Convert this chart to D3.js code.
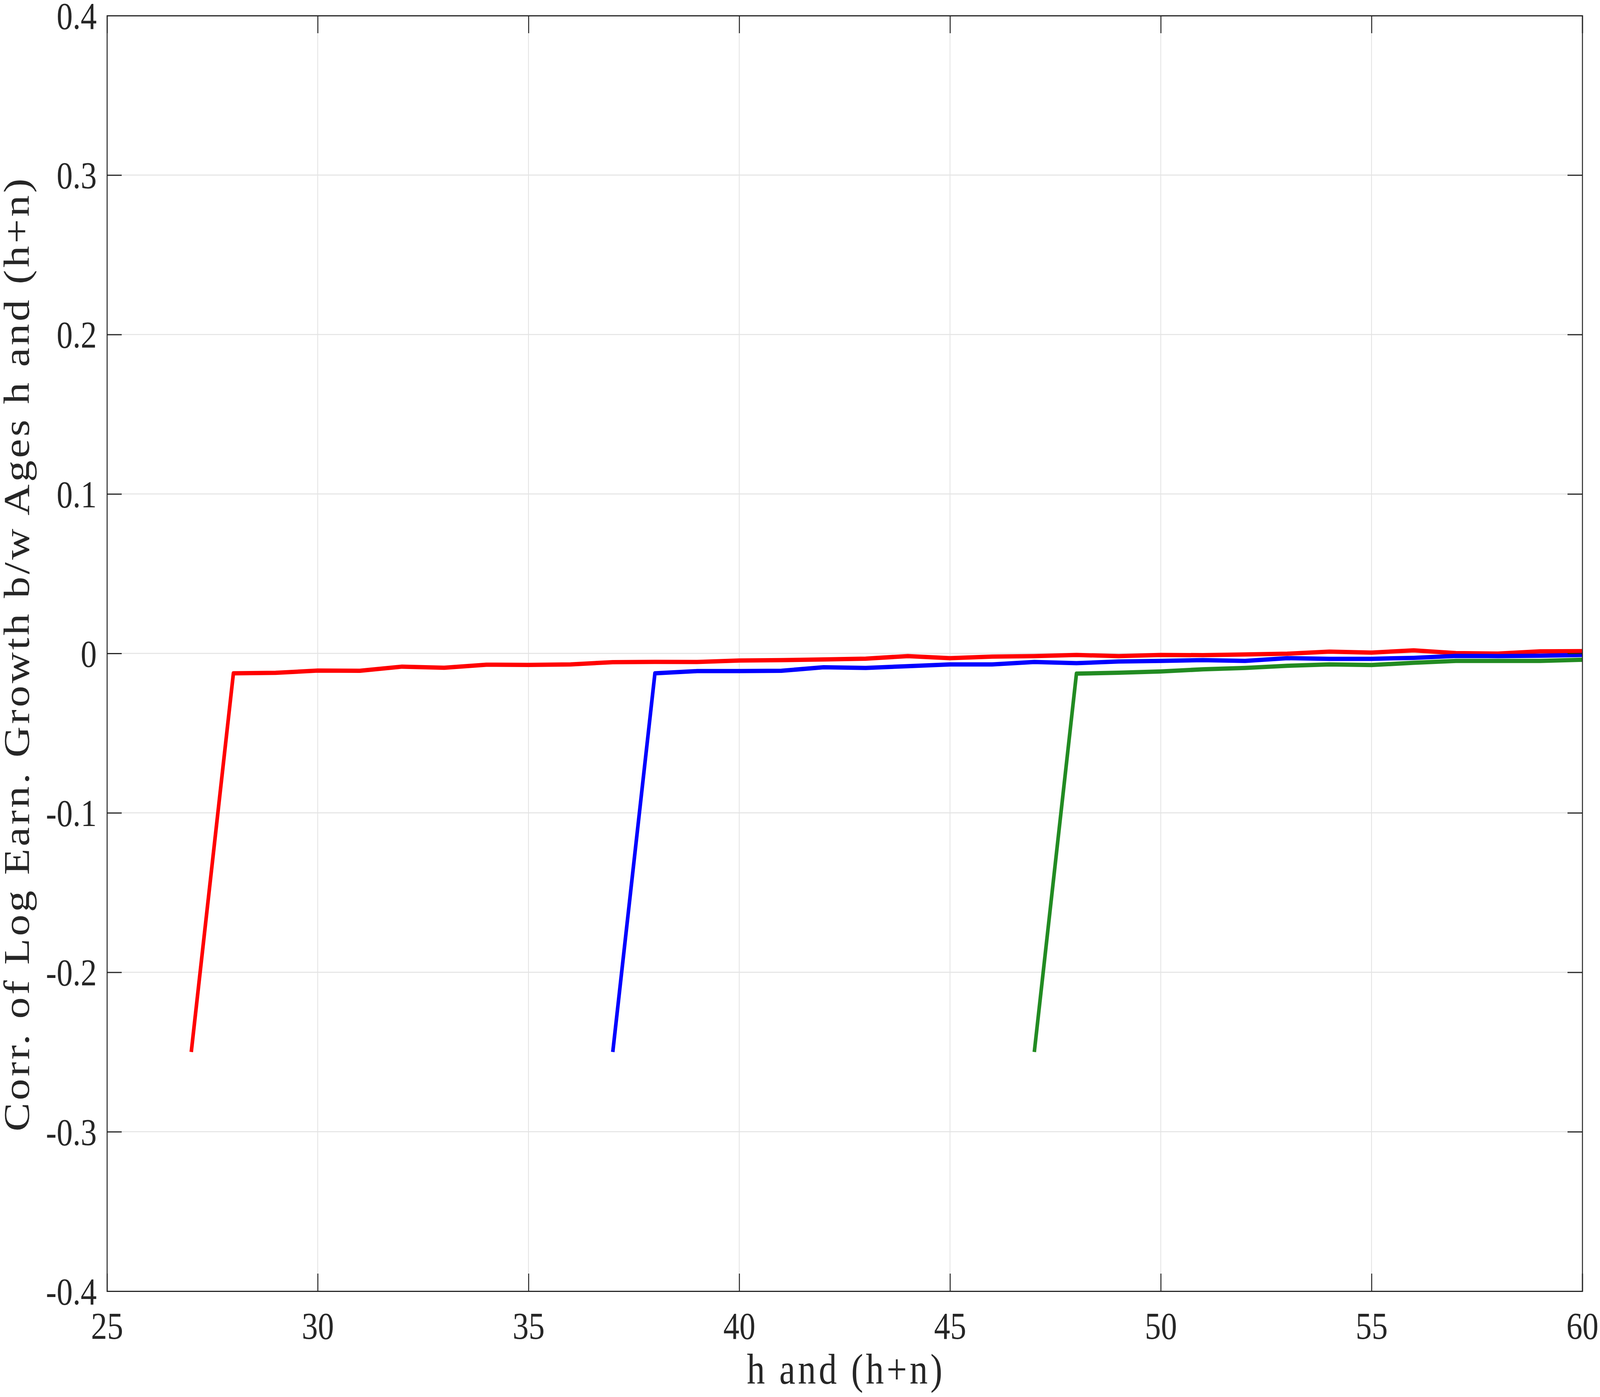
<!DOCTYPE html>
<html>
<head>
<meta charset="utf-8">
<script src="https://cdn.jsdelivr.net/npm/d3@7"></script>
<style>
  html, body { margin: 0; padding: 0; width: 100%; height: 100%; overflow: hidden; background: #fff; }
  svg { display: block; }
  text { font-family: "Liberation Serif", "Times New Roman", serif; fill: #262626; }
</style>
</head>
<body>
<script>
// series values
var agesRed = d3.range(27, 61);
var corrRed = [-0.25, -0.0125, -0.0122, -0.0108, -0.0109, -0.0083, -0.0090, -0.0071, -0.0072, -0.0069,
	-0.0055, -0.0053, -0.0054, -0.0045, -0.0042, -0.0038, -0.0033, -0.0017, -0.0030, -0.0020,
	-0.0017, -0.0010, -0.0017, -0.0010, -0.0011, -0.0007, -0.0002, 0.0011, 0.0005, 0.0019,
	0.0002, -0.0001, 0.0013, 0.0014];
var agesBlue = d3.range(37, 61);
var corrBlue = [-0.25, -0.0125, -0.0111, -0.0111, -0.0109, -0.0087, -0.0091, -0.0080, -0.0069, -0.0069,
	-0.0054, -0.0061, -0.0051, -0.0047, -0.0042, -0.0047, -0.0030, -0.0034, -0.0034, -0.0028,
	-0.0016, -0.0017, -0.0015, -0.0010];
var agesGreen = d3.range(47, 61);
var corrGreen = [-0.25, -0.0127, -0.0121, -0.0113, -0.0100, -0.0091, -0.0078, -0.0069, -0.0073, -0.0059,
	-0.0047, -0.0047, -0.0047, -0.0040];

var xTicks = [25, 30, 35, 40, 45, 50, 55, 60];
var yTicks = [-0.4, -0.3, -0.2, -0.1, 0, 0.1, 0.2, 0.3, 0.4];
var yTickLabels = ["-0.4", "-0.3", "-0.2", "-0.1", "0", "0.1", "0.2", "0.3", "0.4"];
var seriesColors = ["#ff0000", "#0000ff", "#228b22"];

var W = 4877, H = 3577;
var margin = {top: 40, right: 54, bottom: 271, left: 326};
var width = W - margin.left - margin.right;
var height = H - margin.top - margin.bottom;

// viewBox so the drawing fills the window whatever its css size is
var svg = d3.select("body").append("svg")
	.attr("viewBox", "0 0 " + W + " " + H)
	.attr("preserveAspectRatio", "none")
	.style("width", "100vw")
	.style("height", "100vh");
svg.append("rect").attr("width", W).attr("height", H).attr("fill", "#fff");

var g = svg.append("g")
	.attr("transform", "translate(" + margin.left + "," + margin.top + ")");

var x = d3.scaleLinear().domain([25, 60]).range([0, width]);
var y = d3.scaleLinear().domain([-0.4, 0.4]).range([height, 0]);

// grid
g.append("g").selectAll("line").data(xTicks.slice(1, -1)).enter().append("line")
	.attr("x1", function(d) { return x(d); }).attr("x2", function(d) { return x(d); })
	.attr("y1", 0).attr("y2", height)
	.attr("stroke", "#e3e3e3").attr("stroke-width", 2.5);
g.append("g").selectAll("line").data(yTicks.slice(1, -1)).enter().append("line")
	.attr("y1", function(d) { return y(d); }).attr("y2", function(d) { return y(d); })
	.attr("x1", 0).attr("x2", width)
	.attr("stroke", "#e3e3e3").attr("stroke-width", 2.5);

// lines
var line = d3.line()
	.x(function(d) { return x(d[0]); })
	.y(function(d) { return y(d[1]); });
var series = [
	d3.zip(agesRed, corrRed),
	d3.zip(agesBlue, corrBlue),
	d3.zip(agesGreen, corrGreen)
];
g.selectAll(".series").data(series).enter().append("path")
	.attr("class", "series")
	.attr("d", line)
	.attr("fill", "none")
	.attr("stroke", function(d, i) { return seriesColors[i]; })
	.attr("stroke-width", 11)
	.attr("stroke-linejoin", "round");

// axes (matlab look: ticks inward, box on)
var tick = 45;
var fs = 98;
var xAxis = d3.axisBottom(x).tickValues(xTicks).tickSize(-tick).tickPadding(52).tickFormat(d3.format("d"));
var xAxisTop = d3.axisTop(x).tickValues(xTicks).tickSize(-tick).tickFormat("");
var yAxis = d3.axisLeft(y).tickValues(yTicks).tickSize(-tick).tickPadding(31)
	.tickFormat(function(d, i) { return yTickLabels[i]; });
var yAxisRight = d3.axisRight(y).tickValues(yTicks).tickSize(-tick).tickFormat("");

function style(sel) {
	sel.selectAll(".domain").attr("stroke", "#262626").attr("stroke-width", 3);
	sel.selectAll(".tick line").attr("stroke", "#262626").attr("stroke-width", 3);
	sel.selectAll(".tick text").style("font-size", fs + "px").attr("fill", "#262626")
		.style("font-family", "Liberation Serif, Times New Roman, serif");
}
g.append("g").attr("transform", "translate(0," + height + ")").call(xAxis).call(style)
	.selectAll(".tick text").attr("dy", "0.71em");
g.append("g").call(xAxisTop).call(style);
g.append("g").call(yAxis).call(style)
	.selectAll(".tick text").attr("dy", "0.34em");
g.append("g").attr("transform", "translate(" + width + ",0)").call(yAxisRight).call(style);

// axis labels
svg.append("text")
	.attr("x", margin.left + width / 2)
	.attr("y", 3543)
	.attr("text-anchor", "middle")
	.style("font-size", "110px")
	.attr("textLength", 596)
	.attr("lengthAdjust", "spacing")
	.text("h and (h+n)");

svg.append("text")
	.attr("transform", "translate(88," + (margin.top + height / 2 + 4) + ") rotate(-90)")
	.attr("text-anchor", "middle")
	.style("font-size", "110px")
	.attr("textLength", 2440)
	.attr("lengthAdjust", "spacing")
	.text("Corr. of Log Earn.  Growth b/w Ages h and (h+n)");
</script>
</body>
</html>
